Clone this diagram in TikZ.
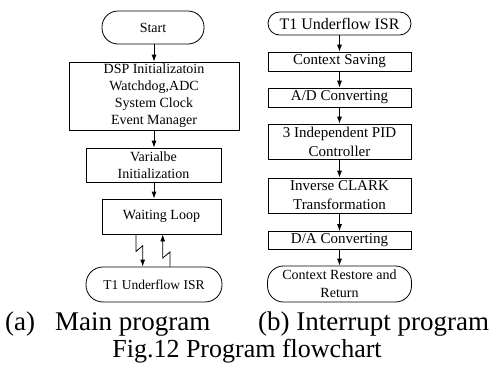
\documentclass[tikz,border=0pt]{standalone}
\usepackage{fontspec}
\setmainfont{Liberation Serif}
\usetikzlibrary{arrows.meta,calc}
\begin{document}
\begin{tikzpicture}[x=1pt,y=-1pt,
  box/.style={draw,line width=0.8pt,inner sep=0pt,align=center,font=\fontsize{14}{17}\selectfont},
  rbox/.style={draw,line width=0.8pt,inner sep=0pt,align=center,font=\fontsize{15}{19}\selectfont},
  arr/.style={line width=0.8pt,-{Latex[length=7pt,width=5pt]}},
  captxt/.style={inner sep=0pt,anchor=base west,font=\fontsize{27}{27}\selectfont}]
\useasboundingbox (0,0) rectangle (491,367);
% left column
\node[box,minimum width=102pt,minimum height=33pt,rounded corners=16pt] (start) at (153,27.5) {Start};
\node[box,minimum width=170pt,minimum height=68pt] (dsp) at (154,96) {DSP Initializatoin\\Watchdog,ADC\\System Clock\\Event Manager};
\node[box,minimum width=135pt,minimum height=34pt] (var) at (153.5,165) {Varialbe\\Initialization};
\node[box,minimum width=119pt,minimum height=35pt] (wait) at (161.5,216.5) {Waiting Loop};
\node[box,minimum width=136pt,minimum height=35pt,rounded corners=17pt,font=\fontsize{13.5}{16}\selectfont] (isra) at (154,284.5) {T1 Underflow ISR};
\coordinate (cx) at (154,0);
\draw[arr] (start.south -| cx) -- (dsp.north -| cx);
\draw[arr] (dsp.south -| cx) -- (var.north -| cx);
\draw[arr] (var.south -| cx) -- (wait.north -| cx);
% lightning connectors
\coordinate (la) at (136,251.5);
\coordinate (lb) at (142.7,245.7);
\coordinate (ra) at (170,252);
\coordinate (rb) at (162.7,258);
\draw[arr] (wait.south -| la) -- (la) -- (lb) -- (isra.north -| lb);
\draw[arr] (isra.north -| ra) -- (ra) -- (rb) -- (wait.south -| rb);
% right column
\node[rbox,minimum width=143pt,minimum height=23pt,rounded corners=11.5pt,font=\fontsize{16}{19}\selectfont] (isrb) at (339.5,23.5) {T1 Underflow ISR};
\node[rbox,minimum width=143pt,minimum height=19pt] (save) at (339.5,61.5) {Context Saving};
\node[rbox,minimum width=143pt,minimum height=19pt] (ad) at (339.5,97.5) {A/D Converting};
\node[rbox,minimum width=143pt,minimum height=35pt] (pid) at (339.5,141.5) {3 Independent PID\\Controller};
\node[rbox,minimum width=143pt,minimum height=35pt] (clark) at (339.5,195.5) {Inverse CLARK\\Transformation};
\node[rbox,minimum width=143pt,minimum height=18pt] (da) at (339.5,240.5) {D/A Converting};
\node[rbox,minimum width=144pt,minimum height=36pt,rounded corners=16pt,font=\fontsize{14}{18}\selectfont] (rest) at (339.5,284) {Context Restore and\\Return};
\draw[arr] (isrb) -- (save);
\draw[arr] (save) -- (ad);
\draw[arr] (ad) -- (pid);
\draw[arr] (pid) -- (clark);
\draw[arr] (clark) -- (da);
\draw[arr] (da) -- (rest);
% captions
\node[captxt] (capa) at (5,330) {(a)\hspace{20pt}Main program};
\node[captxt] (capb) at (258,330) {(b) Interrupt program};
\node[captxt,anchor=base,font=\fontsize{26}{26}\selectfont] (fig) at (247,357) {Fig.12 Program flowchart};
\end{tikzpicture}
\end{document}
